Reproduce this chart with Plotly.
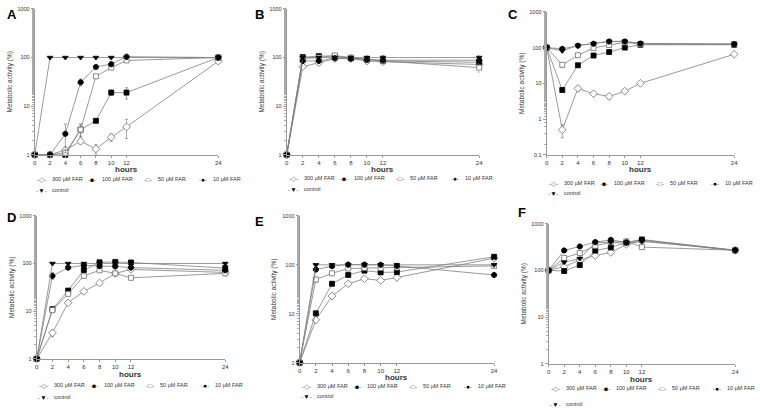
import plotly.graph_objects as go

# time points (hours)
hours = [0, 2, 4, 6, 8, 10, 12, 24]
labels = ["300 µM FAR", "100 µM FAR", "50 µM FAR", "10 µM FAR", "control"]

# panel A
a_300 = [1, 1, 1.25, 1.9, 1.32, 2.3, 3.75, 84]
a_100 = [1, 1, 1, 3.3, 5.0, 19, 19, 100]
a_50 = [1, 1, 1.1, 3.3, 41, 62, 87, 100]
a_10 = [1, 1, 2.7, 31, 64, 73, 104, 100]
a_ctrl = [1, 100, 100, 100, 100, 100, 100, 100]
a_err = [[0, 0, 0.2, 0.25, 0.3, 0.4, 1.6, 6],
         [0, 0, 0, 0.9, 0.2, 2.5, 5, 3],
         [0, 0, 0, 1.0, 3, 5, 5, 3],
         [0, 0, 1.6, 5, 6, 8, 4, 3],
         [0, 0, 0, 0, 0, 0, 0, 0]]

# panel B
b_300 = [1, 65, 78, 95, 95, 85, 82, 72]
b_100 = [1, 102, 107, 108, 97, 93, 85, 80]
b_50 = [1, 95, 100, 110, 100, 90, 85, 62]
b_10 = [1, 85, 85, 97, 95, 90, 88, 88]
b_ctrl = [1, 100, 100, 100, 100, 100, 100, 100]
b_err = [[0, 6, 5, 6, 6, 8, 8, 10],
         [0, 6, 6, 8, 6, 8, 8, 10],
         [0, 6, 6, 8, 6, 10, 10, 12],
         [0, 6, 6, 6, 6, 8, 8, 10],
         [0, 5, 5, 5, 5, 8, 10, 10]]

# panel C
c_300 = [100, 0.5, 7.2, 5.1, 4.3, 6.0, 10, 65]
c_100 = [100, 6.5, 32, 60, 75, 100, 120, 120]
c_50 = [100, 33, 61, 98, 118, 140, 125, 125]
c_10 = [100, 92, 113, 128, 148, 148, 130, 125]
c_ctrl = [100, 81, 115, 130, 150, 150, 130, 125]
c_err = [[0, 0.2, 1.3, 0.8, 0.8, 0.4, 0.5, 3],
         [0, 0.5, 2, 4, 6, 6, 5, 5],
         [0, 5, 8, 6, 10, 8, 5, 5],
         [0, 10, 8, 5, 5, 5, 5, 5],
         [0, 8, 5, 5, 5, 5, 5, 5]]

# panel D
d_300 = [1, 3.5, 15, 26, 39, 62, 75, 65]
d_100 = [1, 11, 27, 73, 106, 108, 105, 80]
d_50 = [1, 10.5, 23, 55, 72, 62, 50, 62]
d_10 = [1, 55, 82, 92, 88, 87, 82, 72]
d_ctrl = [1, 100, 100, 100, 100, 100, 100, 100]
d_err = [[0, 0.6, 1.5, 2, 2, 3, 4, 5],
         [0, 1, 2, 6, 6, 6, 6, 5],
         [0, 1, 2, 5, 5, 4, 3, 4],
         [0, 9, 5, 5, 5, 5, 5, 5],
         [0, 0, 0, 0, 0, 0, 0, 0]]

# panel E
e_300 = [1, 7.5, 23, 41, 52, 48, 55, 137]
e_100 = [1, 10.2, 41, 62, 76, 70, 71, 146]
e_50 = [1, 50, 67, 84, 86, 86, 88, 95]
e_10 = [1, 80, 94, 101, 101, 100, 95, 62]
e_ctrl = [1, 100, 100, 100, 100, 100, 100, 100]
e_err = [[0, 1, 3, 3, 5, 3, 3, 8],
         [0, 1.2, 3, 3, 4, 3, 3, 10],
         [0, 6, 4, 4, 4, 4, 4, 10],
         [0, 5, 5, 4, 4, 4, 4, 6],
         [0, 3, 3, 3, 3, 3, 3, 5]]

# panel F
f_300 = [100, 120, 168, 207, 244, 360, 430, 270]
f_100 = [100, 97, 130, 265, 311, 396, 460, 270]
f_50 = [100, 185, 236, 337, 400, 420, 316, 270]
f_10 = [100, 268, 326, 403, 451, 400, 450, 270]
f_ctrl = [100, 150, 179, 397, 400, 380, 420, 270]
f_err = [[0, 10, 10, 15, 20, 20, 20, 10],
         [0, 8, 10, 15, 20, 20, 20, 10],
         [0, 10, 10, 15, 20, 20, 20, 10],
         [0, 10, 10, 15, 20, 20, 20, 10],
         [0, 10, 10, 15, 20, 20, 20, 10]]

W, H = 760, 414
GRAY = "#808080"
FONT = "Liberation Sans"

def px(x):
    return x / W

def py(y):
    return 1 - y / H

# marker style per series: symbol, fill, edge, size
styles = [("diamond", "white", "#707070", 6),
          ("square", "black", "black", 5),
          ("square", "white", "#707070", 5),
          ("octagon", "black", "black", 5.5),
          ("triangle-down", "black", "black", 5)]

# letter, series, errors, x0, x1, ytop, ybot, log range, "hours" y, legend row y
panels = [
    ("A", [a_300, a_100, a_50, a_10, a_ctrl], a_err, 33, 218, 6, 154, [0, 3], 169, 179, 190),
    ("B", [b_300, b_100, b_50, b_10, b_ctrl], b_err, 287, 481, 6, 154, [0, 3], 169, 178, 189),
    ("C", [c_300, c_100, c_50, c_10, c_ctrl], c_err, 549, 738, 9, 154, [-1, 3], 169, 183, 193),
    ("D", [d_300, d_100, d_50, d_10, d_ctrl], d_err, 35, 225, 216, 361, [0, 3], 377, 388, 400),
    ("E", [e_300, e_100, e_50, e_10, e_ctrl], e_err, 300, 496, 216, 365, [0, 3], 380, 389, 399),
    ("F", [f_300, f_100, f_50, f_10, f_ctrl], f_err, 551, 739, 224, 366, [0, 3], 382, 391, 407),
]
letter_pos = [(3, 2), (253, 2), (508, 2), (3, 208), (253, 212), (518, 203)]

fig = go.Figure()
annotations = []
layout = {}

legend_syms = ["◇", "■", "□", "●", "▼"]
legend_cols = ["#707070", "black", "#707070", "black", "black"]
legend_dx = [7, 58, 114, 170]

for i, (letter, series, errs, x0, x1, yt, yb, yr, hy, ly1, ly2) in enumerate(panels):
    n = "" if i == 0 else str(i + 1)
    for k, vals in enumerate(series):
        sym, fill, edge, size = styles[k]
        fig.add_trace(go.Scatter(
            x=hours, y=vals, mode="lines+markers", xaxis="x" + n, yaxis="y" + n,
            line=dict(color=GRAY, width=0.8),
            marker=dict(symbol=sym, size=size, color=fill, line=dict(color=edge, width=0.8)),
            error_y=dict(type="data", array=errs[k], color=GRAY, thickness=0.7, width=1.5),
            showlegend=False, cliponaxis=False, name=labels[k]))

    tv = [10 ** p for p in range(yr[0], yr[1] + 1)]
    tt = ["0.1" if v < 1 else str(int(v)) for v in tv]
    layout["xaxis" + n] = dict(
        domain=[px(x0), px(x1)], anchor="y" + n, range=[0, 24],
        tickvals=hours, ticks="outside", ticklen=2, tickcolor="#999",
        showline=True, linecolor="#999", linewidth=1, showgrid=False, zeroline=False,
        tickfont=dict(size=6, color="#333"))
    layout["yaxis" + n] = dict(
        domain=[py(yb), py(yt)], anchor="x" + n, type="log", range=yr,
        tickvals=tv, ticktext=tt, ticks="outside", ticklen=3, tickcolor="#999",
        minor=dict(ticks="outside", ticklen=1.5, tickcolor="#aaa"),
        showline=True, linecolor="#999", linewidth=1, showgrid=False, zeroline=False,
        tickfont=dict(size=5.5, color="#333"),
        title=dict(text="Metabolic activity (%)", font=dict(size=6.5, color="#333"), standoff=4))

    lx, lyy = letter_pos[i]
    annotations.append(dict(text="<b>" + letter + "</b>", x=px(lx), y=py(lyy),
                            xref="paper", yref="paper", xanchor="left", yanchor="top",
                            showarrow=False, font=dict(size=13, color="black")))
    annotations.append(dict(text="<b>hours</b>", x=px((x0 + x1) / 2), y=py(hy),
                            xref="paper", yref="paper", xanchor="center", yanchor="middle",
                            showarrow=False, font=dict(size=8, color="#333")))
    for k in range(5):
        sx = x0 + (legend_dx[k] if k < 4 else legend_dx[0])
        yy = ly1 if k < 4 else ly2
        sym_txt = ("<span style='color:%s'>-</span><span style='color:%s'>%s</span>"
                   "<span style='color:%s'>-</span>") % (GRAY, legend_cols[k], legend_syms[k], GRAY)
        annotations.append(dict(text=sym_txt, x=px(sx), y=py(yy), xref="paper", yref="paper",
                                xanchor="center", yanchor="middle", showarrow=False,
                                font=dict(size=6.5, color="#333")))
        annotations.append(dict(text=labels[k], x=px(sx + 8), y=py(yy), xref="paper", yref="paper",
                                xanchor="left", yanchor="middle", showarrow=False,
                                font=dict(size=5.5, color="#333")))

fig.update_layout(
    width=W, height=H, margin=dict(l=0, r=0, t=0, b=0),
    paper_bgcolor="white", plot_bgcolor="white",
    font=dict(family=FONT), annotations=annotations, **layout)

# the page body has a default 8px margin; drop it so the figure sits at the corner
fig.write_html("out.html", config={"displayModeBar": False},
               post_script="document.body.style.margin='0px';")
